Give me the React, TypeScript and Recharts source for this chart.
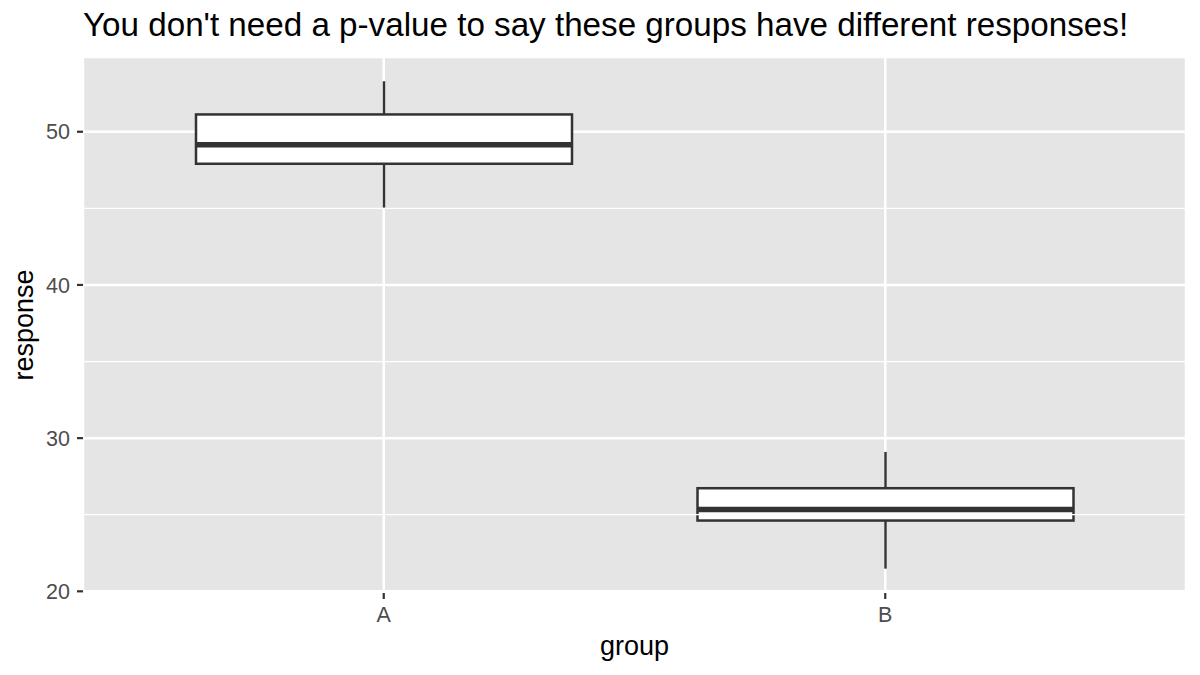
import React from 'react';
import { ComposedChart, Bar, XAxis, YAxis, CartesianGrid, ReferenceLine } from 'recharts';

const groups = ['A', 'B'];
const whiskerLow = [45.04, 21.48];
const q1 = [47.91, 24.62];
const medians = [49.15, 25.34];
const q3 = [51.13, 26.73];
const whiskerHigh = [53.29, 29.1];
const majorTicks = [20, 30, 40, 50];
const minorTicks = [25, 35, 45];
const yDomain = [19.89, 54.88];

const data = groups.map((g, i) => ({
  group: g,
  range: [whiskerLow[i], whiskerHigh[i]],
  lo: whiskerLow[i],
  q1: q1[i],
  med: medians[i],
  q3: q3[i],
  hi: whiskerHigh[i],
}));

const FONT = '"Liberation Sans", Arial, Helvetica, sans-serif';

const BoxShape = (props: any) => {
  const { x, y, width, height, payload } = props;
  const { lo, hi } = payload;
  const py = (v: number) => y + (height * (hi - v)) / (hi - lo);
  const cx = x + width / 2;
  const yQ1 = py(payload.q1);
  const yQ3 = py(payload.q3);
  const yMed = py(payload.med);
  const stroke = '#333333';
  return (
    <g>
      <line x1={cx} x2={cx} y1={py(hi)} y2={yQ3} stroke={stroke} strokeWidth={2.4} />
      <line x1={cx} x2={cx} y1={yQ1} y2={py(lo)} stroke={stroke} strokeWidth={2.4} />
      <rect x={x} y={yQ3} width={width} height={yQ1 - yQ3} fill="#ffffff" stroke={stroke} strokeWidth={2.5} />
      <line x1={x} x2={x + width} y1={yMed} y2={yMed} stroke={stroke} strokeWidth={5.5} />
    </g>
  );
};

const YLabel = (props: any) => {
  const vb = props.viewBox || { x: 0, y: 57, width: 83, height: 536 };
  const cx = 33;
  const cy = vb.y + vb.height / 2;
  return (
    <text x={cx} y={cy} transform={`rotate(-90 ${cx} ${cy})`} textAnchor="middle" fill="#000" fontSize={27} fontFamily={FONT}>
      response
    </text>
  );
};

const XLabel = (props: any) => {
  const vb = props.viewBox || { x: 83, y: 593, width: 1103, height: 60 };
  const cx = vb.x + vb.width / 2;
  return (
    <text x={cx} y={655} textAnchor="middle" fill="#000" fontSize={27} fontFamily={FONT}>
      group
    </text>
  );
};

export default function App() {
  return (
    <div style={{ position: 'absolute', left: 0, top: 0, width: 1200, height: 675, background: '#ffffff', fontFamily: FONT }}>
      <svg width={1200} height={56} style={{ position: 'absolute', left: 0, top: 0 }}>
        <text x={83} y={36} fontSize={33.2} fill="#000" fontFamily={FONT}>
          You don't need a p-value to say these groups have different responses!
        </text>
      </svg>
      <div style={{ position: 'absolute', left: 0, top: 0 }}>
        <ComposedChart
          width={1200}
          height={675}
          data={data}
          margin={{ top: 57, right: 14, bottom: 0, left: 0 }}
          barSize={376}
        >
          <CartesianGrid fill="#E5E5E5" stroke="#ffffff" strokeWidth={2.5} horizontal={true} vertical={true} />
          {minorTicks.map((t) => (
            <ReferenceLine key={t} y={t} stroke="#ffffff" strokeWidth={1.3} ifOverflow="hidden" />
          ))}
          <XAxis
            dataKey="group"
            type="category"
            height={82}
            padding={{ left: 50, right: 50 }}
            axisLine={false}
            tickLine={{ stroke: '#333333', strokeWidth: 2.2 }}
            tickSize={6}
            tick={{ fill: '#4D4D4D', fontSize: 21.5, fontFamily: FONT }}
            tickMargin={8}
            label={<XLabel />}
          />
          <YAxis
            type="number"
            domain={yDomain}
            ticks={majorTicks}
            allowDataOverflow={true}
            width={83}
            axisLine={false}
            tickLine={{ stroke: '#333333', strokeWidth: 2.2 }}
            tickSize={6}
            tick={{ fill: '#4D4D4D', fontSize: 21.5, fontFamily: FONT }}
            tickMargin={7}
            label={<YLabel />}
          />
          <Bar dataKey="range" shape={<BoxShape />} isAnimationActive={false} />
        </ComposedChart>
      </div>
    </div>
  );
}
